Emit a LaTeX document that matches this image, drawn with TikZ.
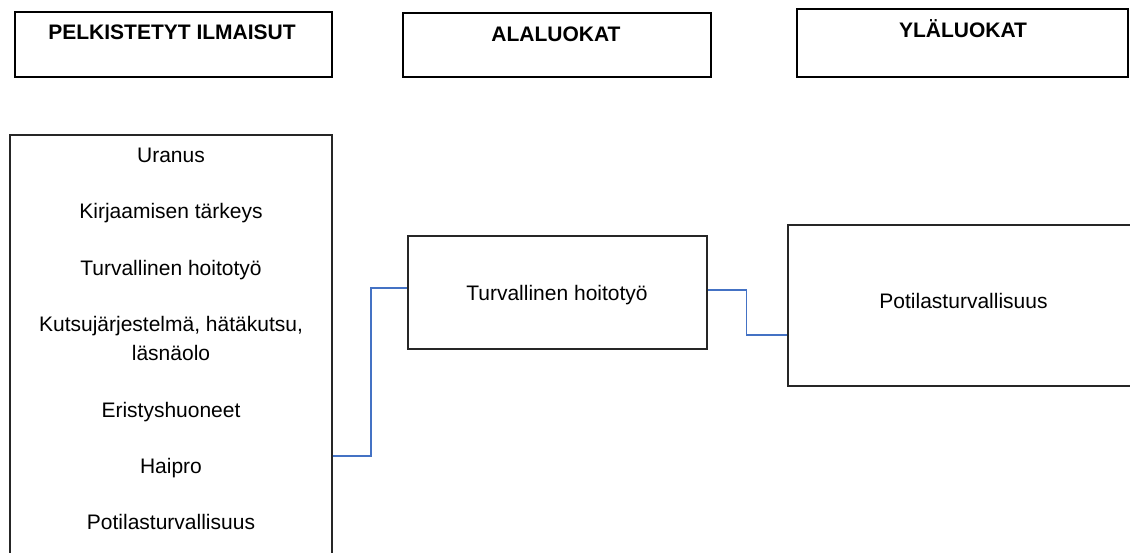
\documentclass[tikz,border=0pt]{standalone}
\usepackage{fontspec}
\setmainfont{Liberation Sans}
\begin{document}
\begin{tikzpicture}[x=1pt,y=-1pt,
  header/.style={draw=black,line width=2pt,rectangle,inner sep=0pt},
  catbox/.style={draw=black!85,line width=1.3pt,rectangle,inner sep=0pt},
  headtext/.style={font=\fontsize{21}{25}\selectfont\bfseries,anchor=base,inner sep=0pt},
  bodytext/.style={font=\fontsize{21}{28}\selectfont,anchor=base,inner sep=0pt},
  link/.style={draw={rgb,255:red,68;green,114;blue,196},line width=1.3pt}]
\clip (0,0) rectangle (1130,553);

% column headers
\node[header,minimum width=317pt,minimum height=65pt] (h1) at (173.5,44.5) {};
\node[header,minimum width=308pt,minimum height=64pt] (h2) at (557,45) {};
\node[header,minimum width=331pt,minimum height=68pt] (h3) at (962.5,43) {};
\node[headtext] (h1t) at (172,40) {PELKISTETYT ILMAISUT};
\node[headtext] (h2t) at (556,42) {ALALUOKAT};
\node[headtext] (h3t) at (963,38) {YLÄLUOKAT};

% reduced expressions (box runs past the lower edge)
\node[catbox,minimum width=322pt,minimum height=470pt] (lbox) at (171,370) {};
\node[bodytext] (i1) at (171,163) {Uranus};
\node[bodytext] (i2) at (171,219) {Kirjaamisen tärkeys};
\node[bodytext] (i3) at (171,276) {Turvallinen hoitotyö};
\node[bodytext] (i4) at (171,332) {Kutsujärjestelmä, hätäkutsu,};
\node[bodytext] (i4b) at (171,360) {läsnäolo};
\node[bodytext] (i5) at (171,417) {Eristyshuoneet};
\node[bodytext] (i6) at (171,473) {Haipro};
\node[bodytext] (i7) at (171,529) {Potilasturvallisuus};

% subcategory
\node[catbox,minimum width=299pt,minimum height=113pt] (mbox) at (557.5,292.5) {};
\node[bodytext] (mt) at (557,301) {Turvallinen hoitotyö};

% main category (box runs past the right edge)
\node[catbox,minimum width=352pt,minimum height=161pt] (rbox) at (964,305.5) {};
\node[bodytext] (rt) at (963.5,309) {Potilasturvallisuus};

% connectors
\coordinate (c1) at (371,456);
\coordinate (c2) at (746.5,290);
\draw[link] (lbox.east |- c1) -| (c1) |- (mbox.west |- 0,288);
\draw[link] (mbox.east |- c2) -| (c2) |- (rbox.west |- 0,335);
\end{tikzpicture}
\end{document}
